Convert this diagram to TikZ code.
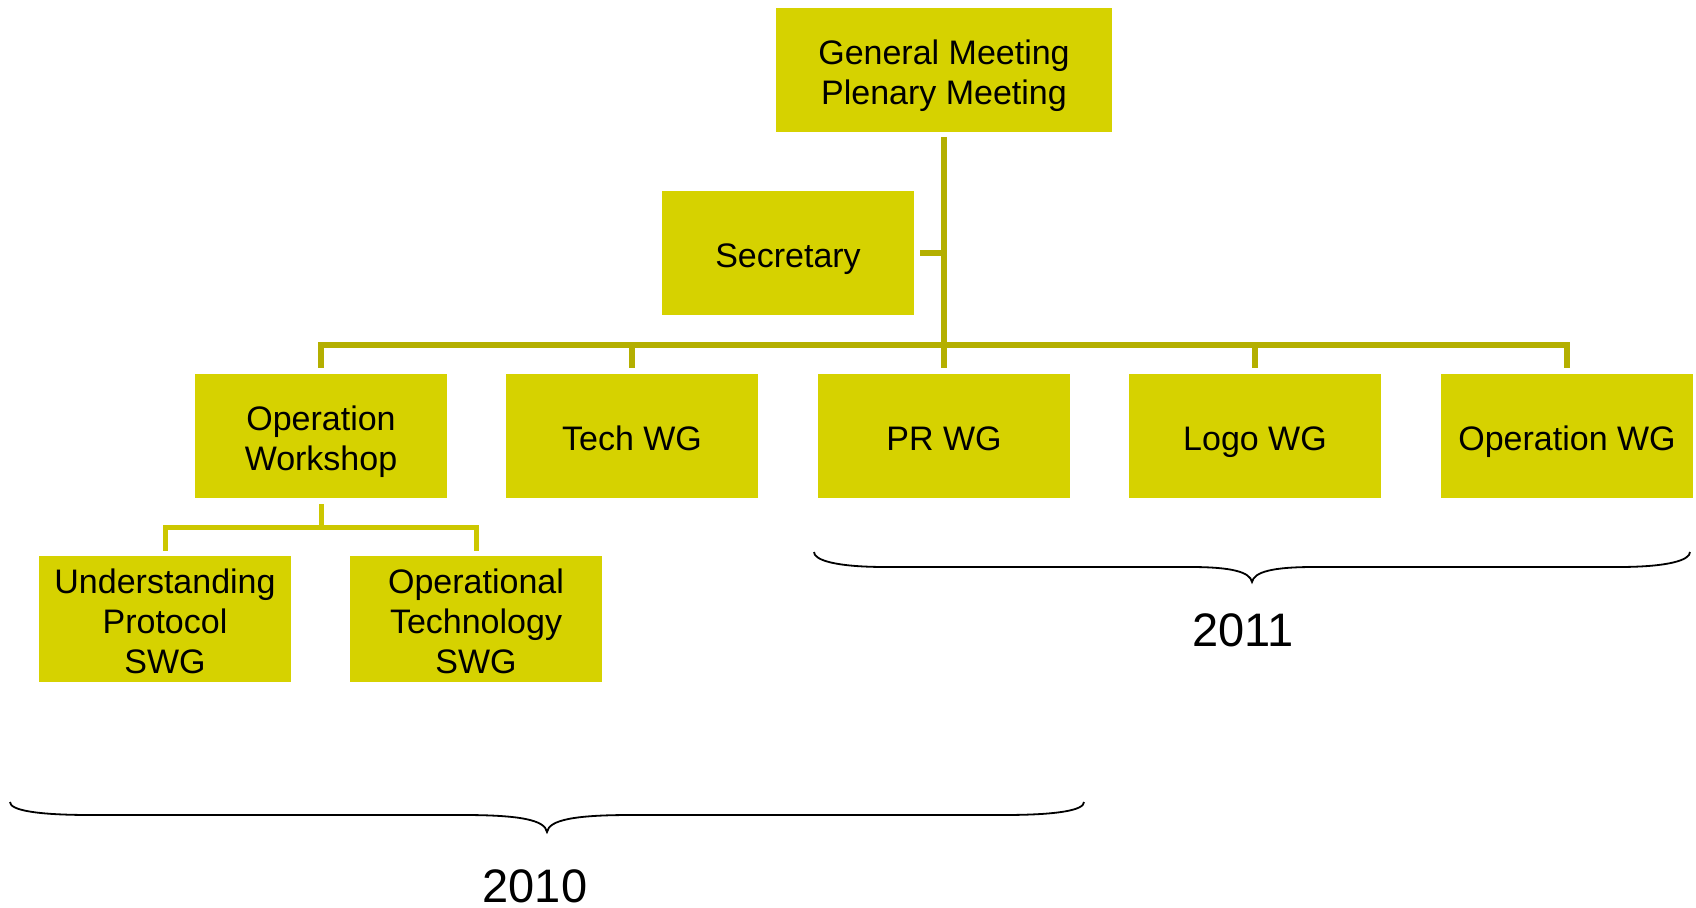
\documentclass[tikz,border=0pt]{standalone}
\usepackage{fontspec}
\setmainfont{Liberation Sans}
\definecolor{boxfill}{RGB}{214,210,0}
\definecolor{conncol}{RGB}{180,175,0}
\definecolor{subcol}{RGB}{204,199,0}
\newcommand\tstr{\rule{0pt}{37pt}}
\newcommand\bstr{\rule[-9pt]{0pt}{9pt}}
\begin{document}
\begin{tikzpicture}[x=1pt,y=-1pt,
  orgbox/.style={fill=boxfill, draw=none, inner sep=0pt, minimum width=252pt, minimum height=124pt, align=center, font=\fontsize{34}{40}\selectfont},
  conn/.style={draw=conncol, line width=5.5pt, line join=miter},
  subconn/.style={draw=subcol, line width=5pt, line join=miter},
  bracepath/.style={draw=black, line width=1.8pt},
  yearlabel/.style={font=\fontsize{47}{53}\selectfont, inner sep=0pt}]
\useasboundingbox (0,0) rectangle (1696,907);
\node[orgbox, minimum width=336pt] (gm) at (944,70) {\tstr General Meeting\\Plenary Meeting\bstr};
\node[orgbox] (sec) at (788,253) {\tstr Secretary\bstr};
\node[orgbox] (ow) at (321,436) {\tstr Operation\\Workshop\bstr};
\node[orgbox] (tech) at (632,436) {\tstr Tech WG\bstr};
\node[orgbox] (pr) at (944,436) {\tstr PR WG\bstr};
\node[orgbox] (logo) at (1255,436) {\tstr Logo WG\bstr};
\node[orgbox] (opwg) at (1567,436) {\tstr Operation WG\bstr};
\node[orgbox] (up) at (165,619) {\tstr Understanding\\Protocol\\SWG\bstr};
\node[orgbox] (ot) at (476,619) {\tstr Operational\\Technology\\SWG\bstr};
\coordinate (bus) at (944,345);
\coordinate (sb) at (321,527);
% main connectors
\draw[conn, shorten <=5pt, shorten >=6pt] (gm.south) -- (pr.north);
\draw[conn, shorten <=6pt] (sec.east) -- (sec.east -| gm.south);
\draw[conn, shorten <=6pt, shorten >=6pt] (ow.north) -- (ow.north |- bus) -- (opwg.north |- bus) -- (opwg.north);
\draw[conn, shorten >=6pt] (tech.north |- bus) -- (tech.north);
\draw[conn, shorten >=6pt] (logo.north |- bus) -- (logo.north);
% sub connectors
\draw[subconn, shorten <=6pt] (ow.south) -- (sb);
\draw[subconn, shorten <=5pt, shorten >=5pt] (up.north) -- (up.north |- sb) -- (ot.north |- sb) -- (ot.north);
% brace 2011
\draw[bracepath] (814,552) .. controls (814,560) and (835,567) .. (886,567)
  -- (1190,567) .. controls (1232,567) and (1250,572) .. (1252,582)
  .. controls (1254,572) and (1272,567) .. (1314,567)
  -- (1618,567) .. controls (1669,567) and (1690,560) .. (1690,552);
\node[yearlabel] (y2011) at (1243,630) {2011};
% brace 2010
\draw[bracepath] (10,802) .. controls (10,810) and (35,815) .. (91,815)
  -- (463,815) .. controls (520,815) and (545,820) .. (547,832)
  .. controls (549,820) and (574,815) .. (631,815)
  -- (1003,815) .. controls (1059,815) and (1084,810) .. (1084,802);
\node[yearlabel] (y2010) at (535,886) {2010};
\end{tikzpicture}
\end{document}
